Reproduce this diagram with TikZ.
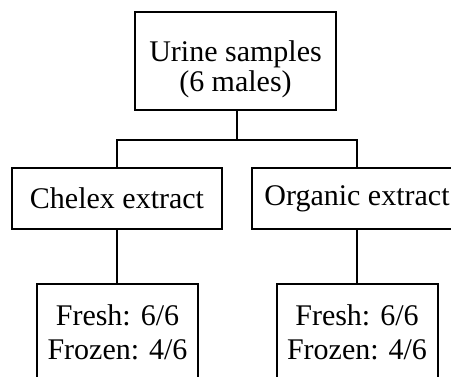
\documentclass[tikz,border=0pt]{standalone}
\usepackage{fontspec}
\setmainfont{Liberation Serif}
\usepackage{tikz}

\begin{document}
\begin{tikzpicture}[x=1pt,y=-1pt]
  \tikzstyle{BoxStyle}=[draw,line width=2pt,inner sep=0pt,align=center,
                        font=\fontsize{30}{30}\selectfont]
  \tikzstyle{EdgeStyle}=[line width=2.4pt]
  \useasboundingbox (0,0) rectangle (451,377);
  \clip (0,0) rectangle (451,377);
  \node[BoxStyle,minimum width=201pt,minimum height=98pt] (U) at (235.5,61)
    {\rule{0pt}{49.5pt}Urine samples\\(6 males)\rule[-18.5pt]{0pt}{18.5pt}};
  \node[BoxStyle,minimum width=210pt,minimum height=61pt] (C) at (117,198.5) {Chelex extract};
  \node[BoxStyle,minimum width=210pt,minimum height=61pt] (O) at (357,198.5) {Organic extract};
  \node[BoxStyle,minimum width=161pt,minimum height=96pt,
        font=\fontsize{30}{34}\selectfont] (CF) at (117.5,332) {Fresh: 6/6\\Frozen: 4/6};
  \node[BoxStyle,minimum width=161pt,minimum height=96pt,
        font=\fontsize{30}{34}\selectfont] (OF) at (357,332) {Fresh: 6/6\\Frozen: 4/6};
  \coordinate (J) at (237,140);
  \draw[EdgeStyle] (U.south -| J) -- (J);
  \draw[EdgeStyle] (C.north) |- (J) -| (O.north);
  \draw[EdgeStyle] (C.south) -- (CF.north -| C.south);
  \draw[EdgeStyle] (O.south) -- (OF.north -| O.south);
\end{tikzpicture}
\end{document}
